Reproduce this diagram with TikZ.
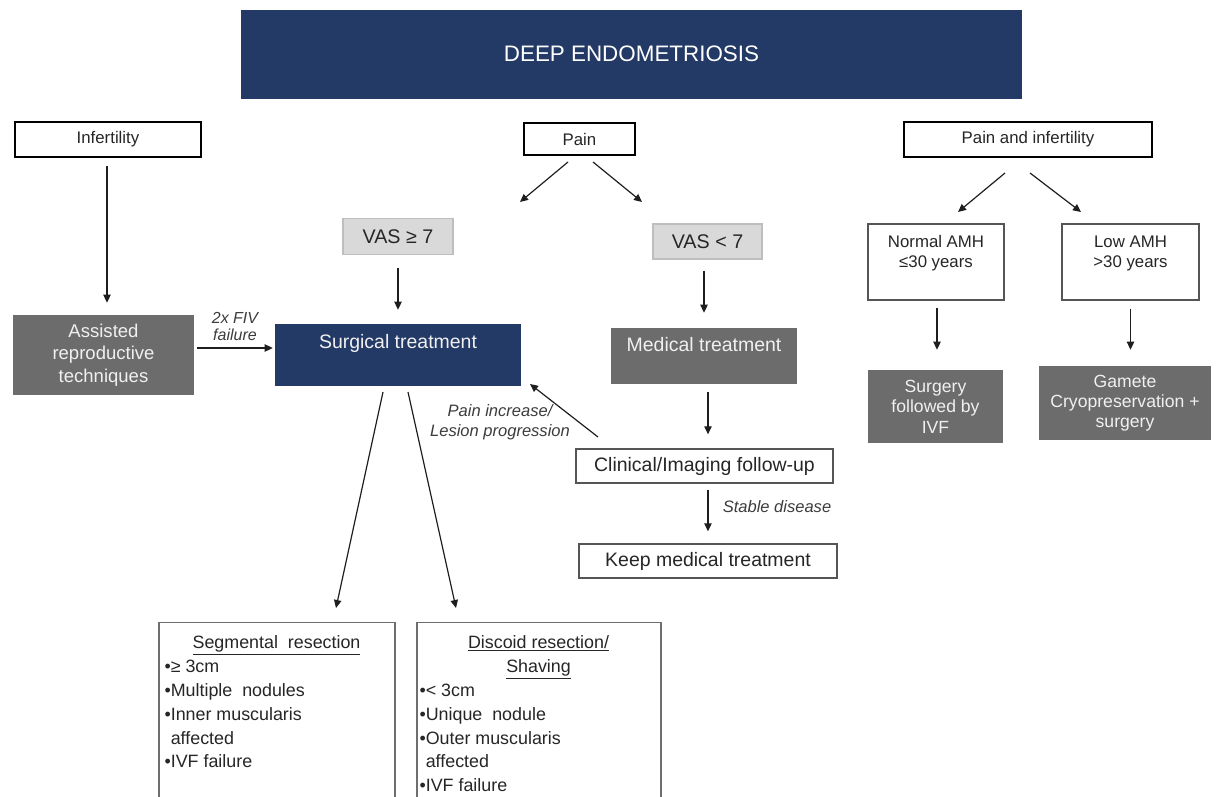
\documentclass[tikz,border=0pt]{standalone}
\usepackage{fontspec}
\setmainfont{Liberation Sans}
\usetikzlibrary{arrows.meta}
\definecolor{navy}{RGB}{35,57,102}
\definecolor{boxgray}{RGB}{108,108,108}
\definecolor{vasgray}{RGB}{217,217,217}
\definecolor{vasedge}{RGB}{190,190,190}
\definecolor{txtdark}{RGB}{38,38,38}
\definecolor{linec}{RGB}{30,30,30}
\definecolor{thinedge}{RGB}{85,85,85}
\begin{document}
\begin{tikzpicture}[x=0.75pt,y=-0.75pt,
  sz/.style 2 args={minimum width={#1*0.75pt}, minimum height={#2*0.75pt}},
  basebox/.style={rectangle, inner sep=0pt, align=center},
  navybox/.style={basebox, fill=navy, text=white},
  hdr/.style={basebox, draw=black, line width=1.9pt, fill=white, text=txtdark, font=\fontsize{12.6}{15}\selectfont},
  graybox/.style={basebox, fill=boxgray, text=white!94!black},
  vasbox/.style={basebox, fill=vasgray, draw=vasedge, line width=1pt, text=txtdark, font=\fontsize{14.8}{17}\selectfont},
  wbox/.style={basebox, draw=thinedge, line width=1pt, fill=white, text=txtdark, font=\fontsize{14.6}{17}\selectfont},
  thinbox/.style={basebox, draw=thinedge, line width=0.9pt, fill=white},
  listbox/.style={basebox, draw=thinedge!85, line width=1.1pt, fill=white},
  wtxt/.style={text=white!94!black, align=center, inner sep=0pt, font=\fontsize{14.6}{17}\selectfont},
  dtxt/.style={text=txtdark, align=center, inner sep=0pt, font=\fontsize{12.6}{15}\selectfont},
  listtxt/.style={text=txtdark, align=left, inner sep=0pt, font=\fontsize{13.4}{17.9}\selectfont},
  itl/.style={text=txtdark!90, align=center, inner sep=0pt, font=\itshape\fontsize{12.4}{15}\selectfont},
  arr/.style={draw=linec, line width=0.9pt, -{Triangle[length=6pt,width=5.5pt]}}
]
\useasboundingbox (0,0) rectangle (1216,796);
\clip (0,0) rectangle (1216,796);

% title
\node[navybox, sz={781}{89}, font=\fontsize{16.8}{19}\selectfont] (title) at (631.5,54) {DEEP ENDOMETRIOSIS};

% headers
\node[hdr, sz={186}{35}] (inf) at (108,139.5) {Infertility};
\node[hdr, sz={111}{32}] (pain) at (579.5,139) {Pain};
\node[hdr, sz={248}{35}] (pinf) at (1028,139.5) {Pain and infertility};

% left branch
\node[graybox, sz={181}{80}, font=\fontsize{13.9}{16.9}\selectfont] (art) at (103.5,355) {Assisted\\reproductive\\techniques};

% pain branch
\node[vasbox, sz={110}{36}] (vas1) at (398,236.5) {VAS ≥ 7};
\node[vasbox, sz={109}{35}] (vas2) at (707.5,241.5) {VAS < 7};
\node[navybox, sz={246}{62}, label={[wtxt, yshift=9pt]center:Surgical treatment}] (surg) at (398,355) {};
\node[graybox, sz={186}{56}, label={[wtxt, yshift=8.25pt]center:Medical treatment}] (med) at (704,356) {};
\node[wbox, sz={257}{34}] (clin) at (704.5,466) {Clinical/Imaging follow-up};
\node[wbox, sz={258}{34}] (keep) at (708,561) {Keep medical treatment};

% pain and infertility branch
\node[thinbox, sz={136}{76}, label={[dtxt, yshift=6.75pt]center:{Normal AMH\\≤30 years}}] (namh) at (936,262) {};
\node[thinbox, sz={137}{76}, label={[dtxt, yshift=6.75pt]center:{Low AMH\\>30 years}}] (lamh) at (1130.5,262) {};
\node[graybox, sz={135}{73}, font=\fontsize{13.2}{15.4}\selectfont] (sivf) at (935.5,406.5) {Surgery\\followed by\\IVF};
\node[graybox, sz={172}{74}, font=\fontsize{13.2}{15}\selectfont] (gam) at (1125,403) {Gamete\\Cryopreservation +\\surgery};

% bottom boxes
\node[listbox, sz={236}{200}, anchor=north,
  label={[listtxt, anchor=north west, xshift=4.5pt, yshift=-10pt]north west:{\makebox[168pt][c]{\underline{Segmental\ \ resection}}\\•≥ 3cm\\•Multiple\ \ nodules\\•Inner muscularis\\\phantom{•}affected\\•IVF failure}}] (seg) at (277,622) {};
\node[listbox, sz={244}{200}, anchor=north,
  label={[listtxt, anchor=north west, xshift=2.25pt, yshift=-10pt]north west:{\makebox[178.5pt][c]{\underline{Discoid resection/}}\\\makebox[178.5pt][c]{\underline{Shaving}}\\•< 3cm\\•Unique\ \ nodule\\•Outer muscularis\\\phantom{•}affected\\•IVF failure}}] (disc) at (539,622) {};

% labels
\node[itl, font=\itshape\fontsize{12}{12.75}\selectfont] (fivlbl) at (235,326.5) {2x FIV\\failure};
\node[itl] (pilbl) at (500,422) {Pain increase/\\Lesion progression};
\node[itl] (stlbl) at (777,507) {Stable disease};

% free arrow ends
\coordinate (pa1s) at (568,162); \coordinate (pa1e) at (520,202);
\coordinate (pa2s) at (593,162); \coordinate (pa2e) at (642,202);
\coordinate (pb1s) at (1005,173); \coordinate (pb1e) at (958,212);
\coordinate (pb2s) at (1030,173); \coordinate (pb2e) at (1081,212);
\coordinate (fbs) at (598,437); \coordinate (fbe) at (530,384);
\coordinate (s1s) at (383,392); \coordinate (s1e) at (336,608);
\coordinate (s2s) at (408,392); \coordinate (s2e) at (456,608);

% connectors
\draw[arr, shorten <=6pt, shorten >=9pt] ([xshift=-0.75pt]inf.south) -- ([xshift=-0.75pt]inf.south |- art.north);
\draw[arr, shorten <=2.25pt, shorten >=1.5pt] ([yshift=5.25pt]art.east) -- ([yshift=5.25pt]art.east -| surg.west);
\draw[arr] (pa1s) -- (pa1e);
\draw[arr] (pa2s) -- (pa2e);
\draw[arr, shorten <=9.75pt, shorten >=10.5pt] (vas1.south) -- (surg.north);
\draw[arr, shorten <=8.25pt, shorten >=11.25pt] (vas2.south -| med.north) -- (med.north);
\draw[arr, shorten <=6pt, shorten >=10.5pt] ([xshift=3pt]med.south) -- ([xshift=3pt]med.south |- clin.north);
\draw[arr, shorten <=4.5pt, shorten >=9pt] ([xshift=2.6pt]clin.south) -- ([xshift=2.6pt]clin.south |- keep.north);
\draw[arr] (fbs) -- (fbe);
\draw[arr] (s1s) -- (s1e);
\draw[arr] (s2s) -- (s2e);
\draw[arr] (pb1s) -- (pb1e);
\draw[arr] (pb2s) -- (pb2e);
\draw[arr, shorten <=5.25pt, shorten >=15pt] ([xshift=0.75pt]namh.south) -- ([xshift=0.75pt]namh.south |- sivf.north);
\draw[arr, shorten <=6pt, shorten >=12pt] (lamh.south) -- (lamh.south |- gam.north);
\end{tikzpicture}
\end{document}
